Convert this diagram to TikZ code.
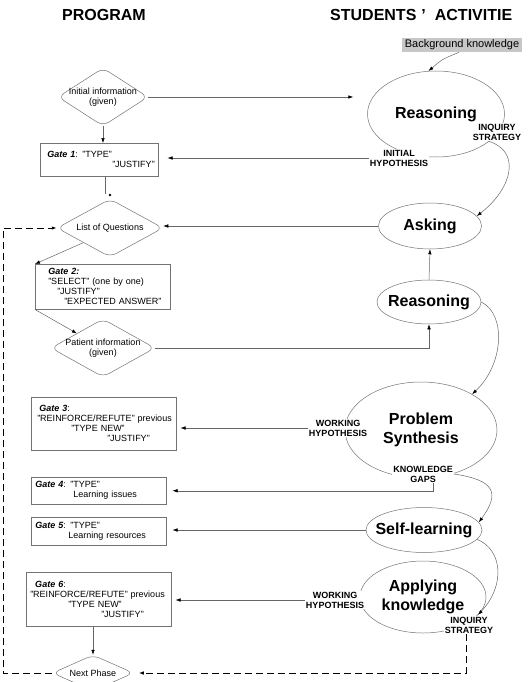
\documentclass[tikz,border=0pt]{standalone}
\usepackage{fontspec}
\setmainfont{Liberation Sans}
\usepackage{tikz}
\usetikzlibrary{shapes.geometric,positioning}
\usetikzlibrary{calc}
\usetikzlibrary{arrows.meta}
\hyphenpenalty=10000
\exhyphenpenalty=10000
\tikzset{
	fleche/.style={draw=black!60, line width=0.5pt, -{Latex[length=5pt,width=3.5pt,color=black]}},
	tirets/.style={draw=black, line width=0.9pt, dash pattern=on 7pt off 4pt, -{Latex[length=5pt,width=3.5pt]}},
	porte/.style={draw=black!55, line width=0.5pt, align=left, anchor=north west, inner xsep=4pt, inner ysep=0pt, font=\fontsize{9}{10}\selectfont},
	losange/.style={diamond, aspect=1.7, draw=black!55, line width=0.5pt, rounded corners=7pt, inner xsep=-9pt, inner ysep=0pt, align=center, font=\fontsize{9}{10}\selectfont},
	bulle/.style={ellipse, draw=black!55, line width=0.5pt, inner xsep=-10pt, inner ysep=0pt, align=center, font=\fontsize{16}{19}\selectfont\bfseries},
	etiq/.style={fill=white, inner sep=1pt, align=center, font=\fontsize{9}{10}\selectfont\bfseries}
}

\begin{document}
\begin{tikzpicture}[x=1pt,y=-1pt]
\useasboundingbox (0,0) rectangle (532,682);
\clip (0,0) rectangle (532,682);

%Titres
\node[font=\fontsize{16}{18}\selectfont\bfseries] (prog) at (104,15) {PROGRAM};
\node[anchor=west, inner sep=0pt, font=\fontsize{16}{18}\selectfont\bfseries] (stud) at (330,15) {STUDENTS\hspace{5pt}'\hspace{9pt}ACTIVITIE};

%Colonne du programme
\node[losange, minimum width=90pt, minimum height=58pt] (init) at (103,97) {Initial information\\(given)};
\node[porte, text width=110pt, minimum height=33pt] (g1) at (40,143)
	{\hspace*{3pt}\textbf{\textit{Gate 1}}:  "TYPE"\\\hspace*{68pt}"JUSTIFY"};
\node[circle, fill, inner sep=0.9pt] (pt) at (110,195) {};
\node[losange, minimum width=106pt, minimum height=58pt] (lq) at (110,228) {List of Questions};
\node[porte, text width=127pt, minimum height=45pt] (g2) at (35,264)
	{\hspace*{9pt}\textbf{\textit{Gate  2:}}\\\hspace*{9pt}"SELECT" (one by one)\\\hspace*{18pt}"JUSTIFY"\\\hspace*{25pt}"EXPECTED ANSWER"};
\node[losange, minimum width=104pt, minimum height=58pt] (pat) at (103,348) {Patient information\\(given)};
\node[porte, text width=137pt, minimum height=53pt] (g3) at (31,397)
	{\hspace*{4pt}\textbf{\textit{Gate 3}}:\\\hspace*{2pt}"REINFORCE/REFUTE" previous\\\hspace*{36pt}"TYPE NEW"\\\hspace*{72pt}"JUSTIFY"};
\node[porte, text width=127pt, minimum height=27pt] (g4) at (31,477)
	{\textbf{\textit{Gate 4}}:  "TYPE"\\\hspace*{38pt}Learning issues};
\node[porte, text width=127pt, minimum height=28pt] (g5) at (31,517)
	{\textbf{\textit{Gate 5}}: "TYPE"\\\hspace*{33pt}Learning resources};
\node[porte, text width=137pt, minimum height=54pt] (g6) at (26,572)
	{\hspace*{5pt}\textbf{\textit{Gate 6}}:\\"REINFORCE/REFUTE" previous\\\hspace*{38pt}"TYPE NEW"\\\hspace*{71pt}"JUSTIFY"};
\node[losange, minimum width=81pt, minimum height=36pt] (next) at (93,673) {Next Phase};
\coordinate (coin) at (3,0);

%Activites des etudiants
\node[fill=black!22, inner xsep=3pt, inner ysep=2pt, font=\fontsize{11}{13}\selectfont] (bg) at (462,45) {Background knowledge};
\node[bulle, minimum width=137pt, minimum height=86pt] (reas1) at (436,114) {Reasoning};
\node[bulle, minimum width=103pt, minimum height=46pt] (ask) at (430,226) {Asking};
\node[bulle, minimum width=104pt, minimum height=44pt] (reas2) at (429,302) {Reasoning};
\node[bulle, minimum width=152pt, minimum height=96pt] (synth) at (421,430) {Problem\\Synthesis};
\node[bulle, minimum width=116pt, minimum height=45pt] (self) at (424,530) {Self-learning};
\node[bulle, minimum width=126pt, minimum height=72pt] (apply) at (423,597) {Applying\\knowledge};

%Etiquettes sur les ellipses
\node[etiq] (inq1) at (497,132) {INQUIRY\\STRATEGY};
\node[etiq] (hyp1) at (399,158) {INITIAL\\HYPOTHESIS};
\node[etiq] (work1) at (338,428) {WORKING\\HYPOTHESIS};
\node[etiq] (gaps) at (423,474) {KNOWLEDGE\\GAPS};
\node[etiq] (work2) at (335,600) {WORKING\\HYPOTHESIS};
\node[etiq] (inq2) at (469,625) {INQUIRY\\STRATEGY};

%Fleches horizontales et verticales
\draw[fleche, shorten >=14pt] (init.east) -- (init.east -| reas1.west);
\draw[fleche] (init.south) -- (init.south |- g1.north);
\draw[fleche, shorten >=9pt] (hyp1.west) -- (hyp1.west -| g1.east);
\draw[draw=black!60, line width=0.5pt] ([xshift=6pt]g1.south) -- ([xshift=6pt]g1.south |- pt.north);
\draw[fleche] (ask.west) -- (ask.west -| lq.east);
\draw[fleche] (reas2.north) -- (ask.south);
\draw[fleche] (lq.south west) -- (g2.north west);
\draw[fleche] (g2.south west) -- (pat.north west);
\draw[fleche] (pat.east) -| (reas2.south);
\draw[fleche, shorten >=4pt] (work1.west) -- (work1.west -| g3.east);
\draw[fleche, shorten >=6pt] ([xshift=10pt]gaps.south) |- (g4.east);
\draw[fleche, shorten >=6pt] (self.west) -- (self.west -| g5.east);
\draw[fleche, shorten >=4pt] (work2.west) -- (work2.west -| g6.east);
\draw[fleche] (next.north |- g6.south) -- (next.north);

%Fleches courbes
\draw[fleche] ([xshift=-3pt]bg.south) .. controls +(-20,8) and +(12,-10) .. (reas1.100);
\draw[fleche] ([xshift=-8pt]inq1.south) .. controls +(32,10) and +(36,-28) .. (ask.12);
\draw[fleche] (reas2.east) .. controls +(25,12) and +(32,-30) .. (synth.35);
\draw[fleche] (gaps.east) .. controls +(40,6) and +(22,-30) .. (self.8);
\draw[fleche] (self.-10) .. controls +(25,10) and +(28,-30) .. (apply.-18);

%Retours en tirets
\draw[tirets, shorten >=5pt] ([xshift=-3pt]inq2.south) |- (next.east);
\draw[tirets] (next.west) -| (coin |- lq.west) -- (lq.west);

\end{tikzpicture}
\end{document}
